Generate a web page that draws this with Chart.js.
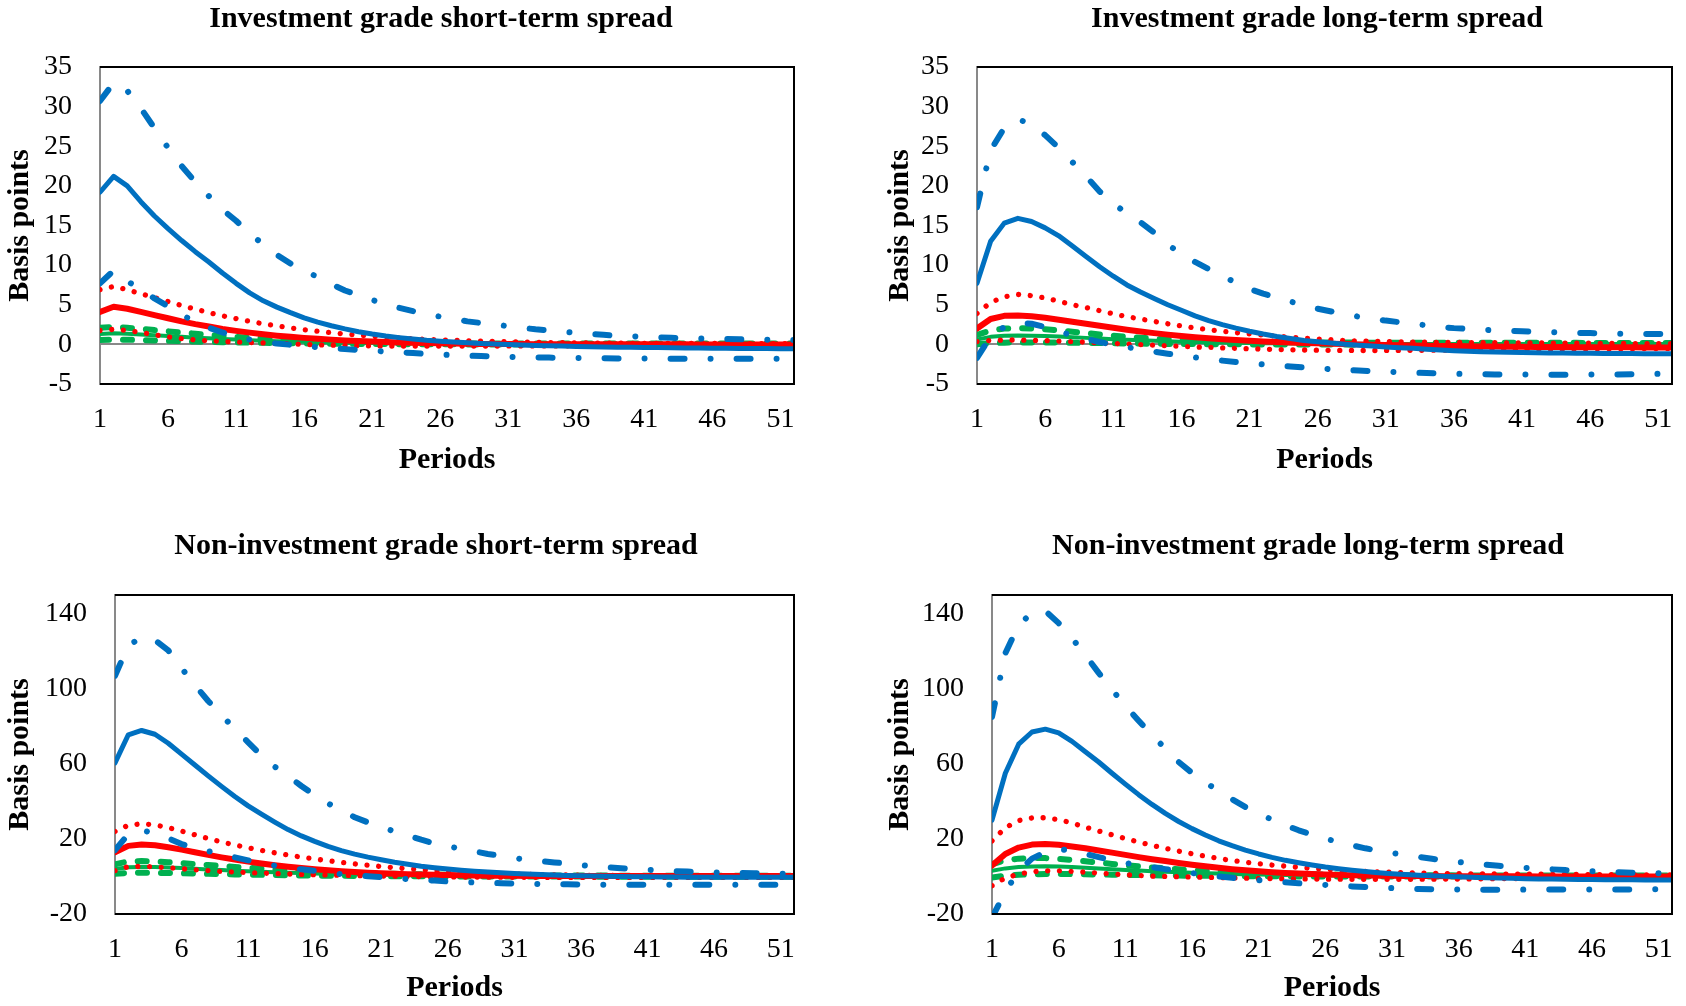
<!DOCTYPE html>
<html>
<head>
<meta charset="utf-8">
<script src="https://cdn.jsdelivr.net/npm/chart.js@4.4.1/dist/chart.umd.min.js"></script>
<style>
  html, body { margin: 0; padding: 0; background: #fff; overflow: hidden; width: 1686px; height: 1006px; }
  canvas { position: absolute; }
</style>
</head>
<body>
<canvas id="igShort"></canvas>
<canvas id="igLong"></canvas>
<canvas id="nigShort"></canvas>
<canvas id="nigLong"></canvas>
<script>
// categories and tick labels
var periods = Array.from({ length: 52 }, function (_, i) { return i + 1; });
var xTickLabels = [1, 6, 11, 16, 21, 26, 31, 36, 41, 46, 51];
var igTicks = [-5, 0, 5, 10, 15, 20, 25, 30, 35];
var nigTicks = [-20, 20, 60, 100, 140];

// Investment grade short-term spread
var igShortBlueHi = [30.7,33.0,32.0,29.8,27.3,24.8,22.5,20.5,18.7,17.0,15.6,14.0,12.6,11.3,10.2,9.3,8.5,7.6,6.8,6.2,5.6,5.1,4.6,4.2,3.8,3.5,3.2,2.9,2.7,2.5,2.3,2.1,1.9,1.75,1.6,1.45,1.32,1.2,1.1,1.02,0.95,0.88,0.83,0.78,0.74,0.7,0.67,0.64,0.61,0.58,0.56,0.55];
var igShortBlueLo = [7.7,9.3,8.0,6.9,5.8,4.8,3.7,2.9,2.1,1.5,1.0,0.6,0.3,0.1,-0.05,-0.2,-0.35,-0.48,-0.6,-0.7,-0.8,-0.9,-1.0,-1.1,-1.2,-1.28,-1.35,-1.42,-1.48,-1.53,-1.57,-1.61,-1.64,-1.67,-1.7,-1.72,-1.74,-1.76,-1.77,-1.78,-1.79,-1.8,-1.8,-1.81,-1.81,-1.82,-1.82,-1.82,-1.82,-1.82,-1.82,-1.82];
var igShortBlue = [19.2,21.2,20.0,18.0,16.2,14.6,13.1,11.7,10.4,9.0,7.7,6.5,5.5,4.7,4.0,3.35,2.8,2.35,1.95,1.6,1.3,1.05,0.85,0.68,0.52,0.4,0.3,0.2,0.12,0.05,-0.02,-0.08,-0.13,-0.18,-0.22,-0.26,-0.29,-0.32,-0.35,-0.37,-0.39,-0.41,-0.43,-0.45,-0.47,-0.48,-0.5,-0.51,-0.52,-0.53,-0.54,-0.55];
var igShortRed = [4.1,4.75,4.5,4.1,3.7,3.3,2.9,2.55,2.25,1.95,1.7,1.48,1.28,1.1,0.95,0.82,0.7,0.6,0.5,0.42,0.35,0.29,0.24,0.2,0.16,0.13,0.1,0.08,0.06,0.05,0.04,0.04,0.03,0.03,0.03,0.02,0.02,0.02,0.02,0.01,0.01,0.01,0.01,0.01,0,0,0,0,0,0,0,0];
var igShortRedHi = [6.9,7.3,6.9,6.4,5.9,5.4,4.9,4.45,4.0,3.6,3.25,2.9,2.6,2.33,2.08,1.85,1.65,1.47,1.3,1.15,1.02,0.9,0.8,0.71,0.63,0.56,0.5,0.45,0.4,0.36,0.32,0.29,0.26,0.23,0.21,0.19,0.17,0.16,0.15,0.14,0.13,0.13,0.12,0.12,0.12,0.11,0.11,0.11,0.1,0.1,0.1,0.1];
var igShortRedLo = [1.75,1.9,1.75,1.5,1.2,0.95,0.72,0.56,0.45,0.36,0.3,0.24,0.18,0.12,0.06,0,-0.05,-0.09,-0.13,-0.16,-0.19,-0.2,-0.21,-0.22,-0.22,-0.22,-0.22,-0.22,-0.21,-0.21,-0.2,-0.2,-0.2,-0.19,-0.19,-0.18,-0.18,-0.18,-0.17,-0.17,-0.17,-0.16,-0.16,-0.16,-0.15,-0.15,-0.15,-0.15,-0.14,-0.14,-0.14,-0.14];
var igShortGreen = [1.3,1.4,1.35,1.25,1.15,1.05,0.95,0.85,0.76,0.68,0.6,0.53,0.47,0.41,0.36,0.32,0.28,0.24,0.21,0.18,0.16,0.14,0.12,0.1,0.09,0.08,0.07,0.06,0.06,0.05,0.05,0.05,0.04,0.04,0.04,0.04,0.04,0.03,0.03,0.03,0.03,0.03,0.03,0.03,0.03,0.03,0.03,0.03,0.03,0.03,0.03,0.03];
var igShortGreenHi = [2.1,2.2,2.1,1.95,1.8,1.65,1.5,1.35,1.2,1.07,0.95,0.84,0.74,0.65,0.57,0.5,0.44,0.38,0.33,0.29,0.25,0.22,0.19,0.17,0.15,0.14,0.13,0.13,0.12,0.12,0.12,0.12,0.11,0.11,0.11,0.11,0.11,0.1,0.1,0.1,0.1,0.1,0.1,0.1,0.1,0.1,0.1,0.1,0.1,0.1,0.1,0.1];
var igShortGreenLo = [0.55,0.6,0.58,0.55,0.5,0.45,0.4,0.36,0.32,0.28,0.25,0.22,0.19,0.16,0.14,0.12,0.1,0.08,0.07,0.06,0.05,0.04,0.03,0.02,0.02,0.01,0.01,0,0,0,-0.01,-0.01,-0.01,-0.01,-0.01,-0.02,-0.02,-0.02,-0.02,-0.02,-0.02,-0.02,-0.02,-0.02,-0.02,-0.02,-0.02,-0.02,-0.02,-0.02,-0.02,-0.02];

// Investment grade long-term spread
var igLongBlueHi = [17.3,24.5,27.3,28.4,27.8,26.4,24.8,23.0,21.2,19.3,17.8,16.5,15.4,14.1,12.6,11.4,10.4,9.5,8.6,7.8,7.0,6.4,5.9,5.4,4.95,4.5,4.15,3.8,3.5,3.25,3.0,2.8,2.6,2.4,2.2,2.05,1.95,1.85,1.78,1.72,1.66,1.6,1.55,1.5,1.46,1.42,1.38,1.35,1.33,1.32,1.31,1.3];
var igLongBlueLo = [-1.7,1.0,2.2,2.7,2.6,2.2,1.65,1.1,0.7,0.3,-0.05,-0.35,-0.65,-0.92,-1.18,-1.42,-1.65,-1.85,-2.05,-2.22,-2.38,-2.53,-2.67,-2.8,-2.92,-3.03,-3.13,-3.22,-3.3,-3.38,-3.45,-3.51,-3.57,-3.62,-3.67,-3.71,-3.74,-3.77,-3.79,-3.8,-3.81,-3.82,-3.82,-3.82,-3.82,-3.81,-3.8,-3.79,-3.77,-3.75,-3.72,-3.7];
var igLongBlue = [7.7,13.0,15.3,15.9,15.5,14.7,13.7,12.4,11.1,9.8,8.6,7.5,6.6,5.8,5.0,4.3,3.6,3.0,2.5,2.05,1.65,1.3,1.0,0.75,0.5,0.33,0.17,0.03,-0.1,-0.22,-0.33,-0.42,-0.5,-0.6,-0.7,-0.8,-0.88,-0.93,-0.97,-1.0,-1.03,-1.06,-1.08,-1.1,-1.12,-1.13,-1.14,-1.15,-1.16,-1.17,-1.18,-1.19];
var igLongRed = [2.0,3.2,3.6,3.65,3.55,3.35,3.1,2.85,2.6,2.35,2.1,1.85,1.62,1.42,1.23,1.06,0.9,0.77,0.65,0.54,0.45,0.37,0.3,0.24,0.18,0.13,0.08,0.04,0,-0.04,-0.07,-0.1,-0.13,-0.16,-0.19,-0.22,-0.24,-0.26,-0.28,-0.29,-0.31,-0.32,-0.33,-0.34,-0.35,-0.36,-0.36,-0.37,-0.37,-0.38,-0.38,-0.39];
var igLongRedHi = [3.9,5.3,6.0,6.3,6.15,5.85,5.45,5.0,4.65,4.25,3.85,3.5,3.2,2.9,2.6,2.32,2.07,1.85,1.65,1.48,1.32,1.17,1.03,0.9,0.78,0.67,0.58,0.5,0.43,0.38,0.34,0.31,0.29,0.27,0.25,0.24,0.23,0.22,0.21,0.2,0.19,0.18,0.17,0.16,0.15,0.14,0.13,0.12,0.11,0.1,0.09,0.08];
var igLongRedLo = [0.35,0.5,0.55,0.55,0.52,0.47,0.42,0.35,0.28,0.2,0.12,0.04,-0.04,-0.11,-0.18,-0.25,-0.32,-0.38,-0.44,-0.5,-0.55,-0.6,-0.64,-0.68,-0.71,-0.73,-0.75,-0.76,-0.77,-0.77,-0.77,-0.76,-0.75,-0.74,-0.73,-0.71,-0.7,-0.68,-0.67,-0.65,-0.64,-0.62,-0.61,-0.6,-0.58,-0.57,-0.56,-0.55,-0.54,-0.53,-0.52,-0.51];
var igLongGreen = [0.6,0.95,1.1,1.12,1.1,1.05,0.98,0.9,0.82,0.74,0.66,0.58,0.51,0.45,0.39,0.34,0.3,0.26,0.23,0.2,0.17,0.15,0.13,0.11,0.1,0.09,0.08,0.07,0.07,0.06,0.06,0.06,0.05,0.05,0.05,0.05,0.05,0.05,0.05,0.05,0.05,0.05,0.05,0.05,0.05,0.05,0.05,0.05,0.05,0.05,0.05,0.05];
var igLongGreenHi = [1.2,1.75,2.0,2.05,2.0,1.9,1.75,1.6,1.42,1.25,1.1,0.96,0.84,0.73,0.64,0.56,0.5,0.44,0.4,0.36,0.33,0.3,0.28,0.26,0.25,0.24,0.23,0.23,0.22,0.22,0.22,0.21,0.21,0.21,0.2,0.2,0.2,0.2,0.2,0.19,0.19,0.19,0.19,0.19,0.19,0.18,0.18,0.18,0.18,0.18,0.18,0.18];
var igLongGreenLo = [0,0.15,0.22,0.25,0.25,0.24,0.22,0.2,0.18,0.16,0.14,0.12,0.1,0.08,0.06,0.05,0.04,0.03,0.02,0.01,0,-0.01,-0.01,-0.02,-0.02,-0.03,-0.03,-0.03,-0.04,-0.04,-0.04,-0.04,-0.04,-0.05,-0.05,-0.05,-0.05,-0.05,-0.05,-0.05,-0.05,-0.05,-0.05,-0.05,-0.05,-0.05,-0.05,-0.05,-0.05,-0.05,-0.05,-0.05];

// Non-investment grade short-term spread
var nigShortBlueHi = [107,123,127.5,126,120.5,111,102,93.5,86,78.5,71.5,64.5,58.5,53.5,48.2,43.3,39,35,31.6,28.8,26.3,24,21.8,19.6,17.6,16.1,14.7,13.4,12,10.9,9.8,8.9,8.2,7.5,6.8,6.0,5.4,4.9,4.4,4.0,3.6,3.2,2.8,2.6,2.4,2.2,2.0,1.85,1.7,1.55,1.4,1.3];
var nigShortBlueLo = [14,22.5,24.5,23.2,20.3,17.3,15.2,13.5,11.8,10.2,8.6,7.1,5.8,4.7,3.8,3.0,2.1,1.2,0.6,0.1,-0.4,-0.9,-1.4,-1.8,-2.2,-2.6,-2.9,-3.2,-3.4,-3.6,-3.8,-3.9,-4.0,-4.1,-4.2,-4.3,-4.35,-4.4,-4.4,-4.4,-4.4,-4.4,-4.4,-4.4,-4.4,-4.4,-4.4,-4.4,-4.4,-4.4,-4.4,-4.4];
var nigShortBlue = [60.5,75.5,77.8,75.8,71.0,65.2,59.4,53.6,48.0,42.6,37.6,33.2,29.0,25.0,21.6,18.7,16.0,13.8,11.9,10.3,8.9,7.6,6.5,5.5,4.7,3.95,3.3,2.8,2.35,1.95,1.6,1.3,1.0,0.78,0.58,0.4,0.25,0.12,0,-0.1,-0.18,-0.25,-0.3,-0.35,-0.38,-0.41,-0.43,-0.44,-0.45,-0.45,-0.45,-0.45];
var nigShortRed = [12.9,16.3,17.0,16.6,15.6,14.3,12.9,11.5,10.2,9.0,7.9,6.9,6.0,5.2,4.5,3.9,3.35,2.85,2.4,2.05,1.75,1.48,1.25,1.05,0.88,0.74,0.62,0.52,0.44,0.38,0.33,0.3,0.28,0.27,0.26,0.25,0.24,0.23,0.23,0.22,0.22,0.21,0.21,0.21,0.2,0.2,0.2,0.2,0.2,0.2,0.2,0.2];
var nigShortRedHi = [24,27.3,28.1,27.5,26.0,24.2,22.2,20.2,18.4,16.8,15.3,13.9,12.6,11.4,10.3,9.3,8.4,7.5,6.7,6.0,5.3,4.7,4.1,3.6,3.1,2.7,2.35,2.0,1.75,1.5,1.3,1.12,0.98,0.86,0.76,0.68,0.6,0.54,0.5,0.46,0.43,0.41,0.39,0.37,0.36,0.35,0.34,0.33,0.32,0.31,0.3,0.3];
var nigShortRedLo = [3.1,5.2,5.4,5.1,4.6,4.1,3.6,3.1,2.7,2.35,2.05,1.8,1.55,1.35,1.15,0.97,0.8,0.65,0.5,0.37,0.25,0.14,0.04,-0.05,-0.13,-0.2,-0.26,-0.31,-0.35,-0.39,-0.42,-0.45,-0.47,-0.49,-0.5,-0.5,-0.5,-0.5,-0.5,-0.5,-0.5,-0.5,-0.5,-0.5,-0.5,-0.5,-0.5,-0.5,-0.5,-0.5,-0.5,-0.5];
var nigShortGreen = [4.0,4.9,5.1,5.0,4.75,4.45,4.1,3.75,3.4,3.1,2.8,2.5,2.25,2.0,1.8,1.6,1.42,1.26,1.12,1.0,0.88,0.78,0.69,0.61,0.54,0.48,0.43,0.38,0.34,0.3,0.28,0.26,0.24,0.23,0.22,0.21,0.2,0.19,0.19,0.18,0.18,0.17,0.17,0.17,0.16,0.16,0.16,0.16,0.15,0.15,0.15,0.15];
var nigShortGreenHi = [6.5,8.0,8.2,8.0,7.6,7.1,6.6,6.1,5.6,5.1,4.6,4.2,3.8,3.4,3.05,2.75,2.45,2.2,1.95,1.75,1.55,1.4,1.25,1.12,1.0,0.9,0.82,0.75,0.68,0.62,0.58,0.55,0.52,0.5,0.48,0.47,0.46,0.45,0.44,0.43,0.42,0.42,0.41,0.41,0.41,0.4,0.4,0.4,0.4,0.4,0.4,0.4];
var nigShortGreenLo = [1.5,1.9,2.0,1.95,1.85,1.7,1.55,1.4,1.25,1.1,0.98,0.86,0.75,0.65,0.56,0.48,0.41,0.35,0.3,0.25,0.2,0.16,0.12,0.09,0.06,0.04,0.02,0,-0.02,-0.03,-0.04,-0.05,-0.06,-0.07,-0.07,-0.08,-0.08,-0.09,-0.09,-0.09,-0.1,-0.1,-0.1,-0.1,-0.1,-0.1,-0.1,-0.1,-0.1,-0.1,-0.1,-0.1];

// Non-investment grade long-term spread
var nigLongBlueHi = [85,119,134,140.5,141.5,135,127,118,108.5,99.5,91,83,75.3,68.2,61,55.2,50.2,45.5,41.2,37,33.5,30.3,27.3,24.6,22.4,20.2,18.3,16.6,15,13.7,12.5,11.4,10.4,9.4,8.5,7.7,7.0,6.3,5.7,5.1,4.6,4.2,3.8,3.4,3.1,2.8,2.5,2.2,2.0,1.85,1.7,1.6];
var nigLongBlueLo = [-22,-8,3,9.5,13,14.5,13.8,12,10.3,8.6,7.2,6.0,4.9,3.9,2.8,1.8,0.8,0,-0.7,-1.4,-2.0,-2.6,-3.1,-3.6,-4.0,-4.5,-4.9,-5.3,-5.6,-5.9,-6.2,-6.5,-6.7,-6.85,-6.95,-7.0,-7.05,-7.05,-7.05,-7.05,-7.0,-7.0,-7.0,-7.0,-7.0,-7.0,-7.0,-7.0,-6.9,-6.8,-6.75,-6.7];
var nigLongBlue = [30,55,70.5,77,78.5,76.5,72,66.5,61,55,49.2,43.6,38.4,33.6,29.3,25.5,22.1,19.0,16.4,14.0,12.0,10.2,8.6,7.3,6.1,5.0,4.1,3.3,2.6,2.0,1.5,1.1,0.7,0.35,0.05,-0.2,-0.45,-0.65,-0.85,-1.0,-1.15,-1.3,-1.4,-1.5,-1.58,-1.65,-1.7,-1.75,-1.8,-1.84,-1.87,-1.9];
var nigLongRed = [5.8,12,15.4,17,17.3,16.9,16.0,15.0,13.8,12.7,11.5,10.3,9.2,8.2,7.2,6.3,5.4,4.6,3.9,3.3,2.8,2.3,1.9,1.6,1.3,1.05,0.85,0.7,0.56,0.45,0.36,0.3,0.25,0.2,0.17,0.14,0.12,0.1,0.08,0.07,0.06,0.05,0.04,0.03,0.02,0.01,0,0,0,0,0,0];
var nigLongRedHi = [19,26,29.8,31.2,31.3,30.3,28.5,26.3,24.2,22.2,20.2,18.3,16.6,15.0,13.5,12.1,10.8,9.6,8.5,7.6,6.8,6.1,5.5,4.9,4.3,3.8,3.4,3.0,2.7,2.45,2.2,2.0,1.8,1.65,1.55,1.45,1.4,1.35,1.3,1.28,1.25,1.2,1.15,1.1,1.05,1.0,0.97,0.94,0.9,0.87,0.84,0.8];
var nigLongRedLo = [-4.9,-0.8,1.3,2.5,3.0,3.0,2.7,2.3,1.8,1.3,0.9,0.5,0.2,0,-0.15,-0.3,-0.45,-0.6,-0.75,-0.88,-1.0,-1.1,-1.2,-1.28,-1.35,-1.4,-1.45,-1.48,-1.5,-1.5,-1.5,-1.48,-1.45,-1.42,-1.38,-1.33,-1.28,-1.22,-1.16,-1.1,-1.04,-0.98,-0.92,-0.86,-0.8,-0.75,-0.7,-0.65,-0.6,-0.55,-0.5,-0.46];
var nigLongGreen = [3.1,4.3,5.0,5.35,5.4,5.25,5.0,4.65,4.3,3.9,3.5,3.15,2.8,2.5,2.2,1.95,1.72,1.52,1.34,1.18,1.04,0.92,0.81,0.72,0.64,0.57,0.51,0.46,0.41,0.37,0.34,0.31,0.29,0.27,0.25,0.23,0.22,0.21,0.2,0.19,0.18,0.18,0.17,0.17,0.16,0.16,0.16,0.15,0.15,0.15,0.15,0.15];
var nigLongGreenHi = [6.5,8.6,9.5,9.9,9.8,9.4,8.8,8.1,7.4,6.7,6.0,5.4,4.8,4.3,3.8,3.4,3.0,2.65,2.35,2.1,1.85,1.65,1.47,1.32,1.2,1.08,0.98,0.9,0.83,0.77,0.72,0.68,0.65,0.62,0.6,0.58,0.56,0.55,0.54,0.53,0.52,0.52,0.51,0.51,0.5,0.5,0.5,0.5,0.5,0.5,0.5,0.5];
var nigLongGreenLo = [-0.5,0.4,0.9,1.2,1.3,1.3,1.25,1.15,1.05,0.95,0.85,0.75,0.65,0.56,0.48,0.4,0.33,0.27,0.22,0.17,0.13,0.1,0.07,0.05,0.03,0.01,0,-0.01,-0.02,-0.03,-0.04,-0.05,-0.06,-0.06,-0.07,-0.07,-0.08,-0.08,-0.08,-0.09,-0.09,-0.09,-0.09,-0.1,-0.1,-0.1,-0.1,-0.1,-0.1,-0.1,-0.1,-0.1];

var serif = "'Liberation Serif', 'Times New Roman', serif";

// line looks, in drawing order: first one ends up on top
var lineStyles = [
  { color: "#0070C0", width: 6, dash: [14, 26, 0.01, 26], cap: "round" },
  { color: "#0070C0", width: 6, dash: [14, 26, 0.01, 26], cap: "round" },
  { color: "#0070C0", width: 5, dash: [], cap: "round" },
  { color: "#FF0000", width: 6, dash: [], cap: "round" },
  { color: "#FF0000", width: 5.3, dash: [0.01, 11.7], cap: "round" },
  { color: "#FF0000", width: 5.3, dash: [0.01, 11.7], cap: "round" },
  { color: "#00B050", width: 4, dash: [], cap: "round" },
  { color: "#00B050", width: 6, dash: [9, 14], cap: "round" },
  { color: "#00B050", width: 6, dash: [9, 14], cap: "round" }
];

// black frame on top and right of the plot area, bottom too
var frame = {
  id: "frame",
  afterDatasetsDraw: function (chart) {
    var ctx = chart.ctx, a = chart.chartArea;
    ctx.save();
    ctx.strokeStyle = "#000";
    ctx.lineWidth = 2;
    ctx.beginPath();
    ctx.moveTo(a.left, a.top);
    ctx.lineTo(a.right, a.top);
    ctx.lineTo(a.right, a.bottom);
    ctx.lineTo(a.left, a.bottom);
    ctx.stroke();
    ctx.restore();
  }
};

function panel(id, box, title, yMin, yMax, yTicks, series) {
  var el = document.getElementById(id);
  el.style.left = box.left + "px";
  el.style.top = box.top + "px";
  el.width = box.width;
  el.height = box.height;

  var datasets = series.map(function (values, i) {
    var s = lineStyles[i];
    return {
      data: values,
      yAxisID: "y",
      borderColor: s.color,
      borderWidth: s.width,
      borderDash: s.dash,
      borderCapStyle: s.cap,
      borderJoinStyle: "round",
      pointRadius: 0,
      tension: 0,
      fill: false,
      clip: 0
    };
  });

  new Chart(el, {
    type: "line",
    data: { labels: periods, datasets: datasets },
    options: {
      responsive: false,
      animation: false,
      layout: { padding: 0 },
      plugins: {
        legend: { display: false },
        tooltip: { enabled: false },
        title: {
          display: true,
          text: title,
          color: "#000",
          font: { family: serif, size: 30, weight: "bold" },
          padding: { top: box.titleTop, bottom: box.titleBottom }
        }
      },
      scales: {
        x: {
          type: "category",
          offset: false,
          grid: { display: false, drawTicks: false },
          border: { display: false },
          ticks: {
            autoSkip: false, maxRotation: 0, minRotation: 0, padding: 19,
            color: "#000", font: { family: serif, size: 28 }
          },
          afterBuildTicks: function (s) {
            s.ticks = s.ticks.filter(function (t) { return xTickLabels.indexOf(periods[t.value]) >= 0; });
          },
          afterFit: function (s) { s.height = box.xHeight; },
          title: {
            display: true, text: "Periods", color: "#000",
            font: { family: serif, size: 30, weight: "bold" },
            padding: { top: 0, bottom: box.xTitleBottom }
          }
        },
        y: {
          min: yMin,
          max: yMax,
          afterBuildTicks: function (s) {
            s.ticks = yTicks.map(function (v) { return { value: v }; });
          },
          grid: {
            drawTicks: false,
            lineWidth: 2,
            color: function (c) { return c.tick && c.tick.value === 0 ? "#898989" : "rgba(0,0,0,0)"; }
          },
          border: { color: "#898989", width: 2 },
          ticks: { padding: 28, color: "#000", font: { family: serif, size: 28 } },
          afterFit: function (s) { s.width = box.yWidth; },
          title: {
            display: true, text: "Basis points", color: "#000",
            font: { family: serif, size: 30, weight: "bold" },
            padding: { top: box.yTitleTop, bottom: 0 }
          }
        },
        pad: {
          type: "linear",
          position: "right",
          grid: { display: false, drawTicks: false },
          border: { display: false },
          ticks: { display: false },
          afterFit: function (s) { s.width = box.rightPad; }
        }
      }
    },
    plugins: [frame]
  });
}

panel("igShort",
  { left: 0, top: 0, width: 882, height: 484, yWidth: 100, rightPad: 88, titleTop: 1, titleBottom: 30, xHeight: 100, xTitleBottom: 6, yTitleTop: 2 },
  "Investment grade short-term spread", -5, 35, igTicks,
  [igShortBlueHi, igShortBlueLo, igShortBlue, igShortRed, igShortRedHi, igShortRedLo, igShortGreen, igShortGreenHi, igShortGreenLo]);

panel("igLong",
  { left: 877, top: 0, width: 880, height: 484, yWidth: 100, rightPad: 85, titleTop: 1, titleBottom: 30, xHeight: 100, xTitleBottom: 6, yTitleTop: 5 },
  "Investment grade long-term spread", -5, 35, igTicks,
  [igLongBlueHi, igLongBlueLo, igLongBlue, igLongRed, igLongRedHi, igLongRedLo, igLongGreen, igLongGreenHi, igLongGreenLo]);

panel("nigShort",
  { left: 0, top: 520, width: 872, height: 486, yWidth: 115, rightPad: 78, titleTop: 8, titleBottom: 31, xHeight: 92, xTitleBottom: 0, yTitleTop: 2 },
  "Non-investment grade short-term spread", -20, 150, nigTicks,
  [nigShortBlueHi, nigShortBlueLo, nigShortBlue, nigShortRed, nigShortRedHi, nigShortRedLo, nigShortGreen, nigShortGreenHi, nigShortGreenLo]);

panel("nigLong",
  { left: 877, top: 520, width: 862, height: 486, yWidth: 115, rightPad: 67, titleTop: 8, titleBottom: 31, xHeight: 92, xTitleBottom: 0, yTitleTop: 5 },
  "Non-investment grade long-term spread", -20, 150, nigTicks,
  [nigLongBlueHi, nigLongBlueLo, nigLongBlue, nigLongRed, nigLongRedHi, nigLongRedLo, nigLongGreen, nigLongGreenHi, nigLongGreenLo]);
</script>
</body>
</html>
